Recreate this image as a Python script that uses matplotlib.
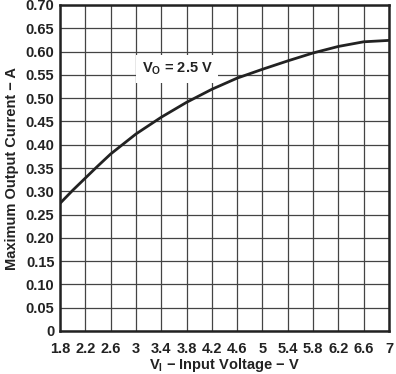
import numpy as np
from matplotlib import pyplot as plt

# curve (V_O = 2.5 V)
vin = [1.8, 2.0, 2.38, 2.6, 3.0, 3.4, 3.8, 4.0, 4.2, 4.6, 5.0, 5.4, 5.8, 6.2, 6.6, 7.0]
iout = [0.274, 0.302, 0.352, 0.380, 0.423, 0.459, 0.491, 0.505, 0.519, 0.543,
        0.562, 0.580, 0.597, 0.611, 0.621, 0.624]

xticks = [1.8, 2.2, 2.6, 3.0, 3.4, 3.8, 4.2, 4.6, 5.0, 5.4, 5.8, 6.2, 6.6, 7.0]
xlabels = ["1.8", "2.2", "2.6", "3", "3.4", "3.8", "4.2", "4.6", "5",
           "5.4", "5.8", "6.2", "6.6", "7"]
yticks = [0.0, 0.05, 0.10, 0.15, 0.20, 0.25, 0.30, 0.35, 0.40, 0.45, 0.50,
          0.55, 0.60, 0.65, 0.70]
ylabels = ["0"] + ["%.2f" % v for v in yticks[1:]]

plt.rcParams["font.family"] = "Liberation Sans"
plt.rcParams["font.weight"] = "bold"
plt.rcParams["mathtext.fontset"] = "custom"
plt.rcParams["mathtext.rm"] = "Liberation Sans:bold"
plt.rcParams["mathtext.bf"] = "Liberation Sans:bold"

fig = plt.figure(figsize=(3.96, 3.74), dpi=100)
ax = fig.add_axes([60 / 396, 1 - 331 / 374, 329 / 396, 326 / 374])

ax.plot(vin, iout, color="#222222", lw=2.0, zorder=3)

ax.set_xlim(1.8, 7.0)
ax.set_ylim(0, 0.70)
ax.set_xticks(xticks)
ax.set_xticklabels(xlabels)
ax.set_yticks(yticks)
ax.set_yticklabels(ylabels)
ax.tick_params(length=0, labelsize=10.5, pad=4, colors="#222222")
ax.tick_params(axis="x", pad=8)
ax.grid(True, color="#444444", lw=0.9)
for s in ax.spines.values():
    s.set_linewidth(1.8)
    s.set_color("#222222")

ax.text(3.65, 0.563, "$\\mathrm{V_O}$ = 2.5 V", fontsize=10.5, fontweight="bold",
        ha="center", va="center", color="#222222", zorder=4,
        bbox=dict(facecolor="white", edgecolor="none", pad=4))

ax.set_xlabel("$\\mathrm{V_I}$ \u2212 Input Voltage \u2212 V", fontsize=10.5,
              fontweight="bold", color="#222222", labelpad=0)
ax.set_ylabel("Maximum Output Current \u2212 A", fontsize=10.5,
              fontweight="bold", color="#222222", labelpad=5)

fig.savefig("out.png", dpi=100)
